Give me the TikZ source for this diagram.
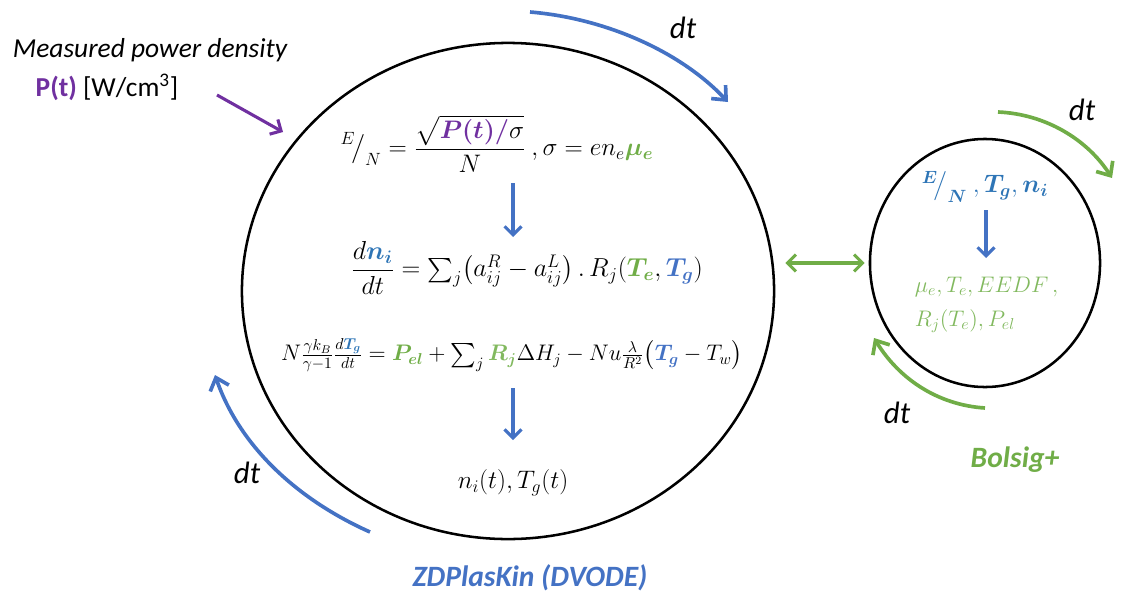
\RequirePackage{fix-cm}
\documentclass[tikz,border=0pt]{standalone}
\usepackage{amsmath}
\usepackage{bm}
\usepackage{fontspec}
\setmainfont{Carlito}
\usetikzlibrary{arrows.meta,shapes.geometric}
\definecolor{myblue}{RGB}{68,114,196}
\definecolor{eqblue}{RGB}{46,117,182}
\definecolor{mygreen}{RGB}{112,173,71}
\definecolor{ltgreen}{RGB}{130,185,95}
\definecolor{mypurple}{RGB}{112,48,160}
\tikzset{
  ring/.style={draw=black, line width=1.8pt, ellipse, inner sep=0pt},
  bluearc/.style={draw=myblue, line width=2.6pt, -{Straight Barb[length=8pt,width=14pt,line width=2.6pt]}},
  greenarc/.style={draw=mygreen, line width=2.6pt, -{Straight Barb[length=8pt,width=14pt,line width=2.6pt]}},
  downarrow/.style={draw=myblue, line width=2.2pt, -{Straight Barb[length=6pt,width=12pt,line width=2.2pt]}},
  dtlabel/.style={font=\itshape\fontsize{22}{26}\selectfont, text=black},
  eqtext/.style={font=\fontsize{18}{21}\selectfont},
  eqsmall/.style={font=\fontsize{16}{19}\selectfont},
}
\begin{document}
\begin{tikzpicture}[x=0.025cm,y=-0.025cm]
\useasboundingbox (0,0) rectangle (1123,599);

% circles
\node[ring, minimum width=13.3cm, minimum height=12.4cm] (big) at (508,291) {};
\node[ring, minimum width=5.75cm, minimum height=6.2cm] (small) at (985,263) {};

% left labels
\node[font=\itshape\fontsize{19.5}{23}\selectfont] (meas) at (150,50) {Measured power density};
\node[font=\fontsize{19.5}{23}\selectfont] (pt) at (107,87) {{\color{mypurple}\bfseries P(t)} [W/cm\textsuperscript{3}]};
\coordinate (pa) at (217,95);
\coordinate (pb) at (283,132);
\draw[draw=mypurple, line width=2.2pt, -{Straight Barb[length=6pt,width=12pt,line width=2.2pt]}] (pa) -- (pb);

% equations in big circle
\node[eqtext] (eqA) at (497,144) {$\displaystyle {}^{E}\!\big/_{N} = \frac{\sqrt{\color{mypurple}\bm{P(t)/}\color{black}\sigma}}{N}\ ,\sigma = e n_e \color{mygreen}\bm{\mu_e}$};
\node[eqtext, font=\fontsize{18.5}{21}\selectfont] (eqB) at (527,268) {$\displaystyle \frac{d\color{eqblue}\bm{n_i}}{dt} = \textstyle\sum_j \bigl(a_{ij}^{R} - a_{ij}^{L}\bigr)\,.\,R_j(\color{mygreen}\bm{T_e}\color{black},\color{myblue}\bm{T_g}\color{black})$};
\node[eqsmall] (eqC) at (512,355) {$\textstyle N\frac{\gamma k_B}{\gamma-1}\frac{d\color{eqblue}\bm{T_g}}{dt} = \color{mygreen}\bm{P_{el}}\color{black} + \sum_j \color{ltgreen}\bm{R_j}\color{black}\Delta H_j - Nu\frac{\lambda}{R^2}\bigl(\color{myblue}\bm{T_g}\color{black} - T_w\bigr)$};
\node[eqtext] (eqD) at (513,483) {$n_i(t), T_g(t)$};

\coordinate (a1s) at (513,183);
\coordinate (a1e) at (513,237);
\coordinate (a2s) at (513,388);
\coordinate (a2e) at (513,440);
\draw[downarrow] (a1s) -- (a1e);
\draw[downarrow] (a2s) -- (a2e);

% small circle text
\node[eqtext, text=eqblue] (eqE) at (985,187) {$\bm{{}^{E}\!\big/_{N}}\ ,\bm{T_g},\bm{n_i}$};
\coordinate (a3s) at (986,210);
\coordinate (a3e) at (986,258);
\draw[downarrow] (a3s) -- (a3e);
\node[eqsmall, text=ltgreen, anchor=west] (eqF) at (910,287) {$\mu_e, T_e, EEDF\,,$};
\node[eqsmall, text=ltgreen, anchor=west] (eqG) at (910,321) {$R_j(T_e), P_{el}$};

% double arrow between circles
\draw[draw=mygreen, line width=2.2pt, {Straight Barb[length=6pt,width=12pt,line width=2.2pt]}-{Straight Barb[length=6pt,width=12pt,line width=2.2pt]}, shorten <=0.25cm, shorten >=0.1cm] (big.east |- small.west) -- (small.west);

% blue time arcs
\coordinate (bt1) at (530,12);
\coordinate (bt2) at (728,102);
\draw[bluearc] (bt1) .. controls (603,18) and (679,50) .. (bt2);
\coordinate (bl1) at (370,532);
\coordinate (bl2) at (215,375);
\draw[bluearc] (bl1) .. controls (296,499) and (239,445) .. (bl2);

% green time arcs
\coordinate (gt1) at (998,112);
\coordinate (gt2) at (1112,178);
\draw[greenarc] (gt1) .. controls (1045,114) and (1087,139) .. (gt2);
\coordinate (gl1) at (985,408);
\coordinate (gl2) at (874,338);
\draw[greenarc] (gl1) .. controls (938,405) and (899,379) .. (gl2);

% dt labels
\node[dtlabel] (dt1) at (683,28) {dt};
\node[dtlabel] (dt2) at (247,473) {dt};
\node[dtlabel] (dt3) at (1082,110) {dt};
\node[dtlabel] (dt4) at (897,413) {dt};

% titles
\node[font=\bfseries\itshape\fontsize{21}{25}\selectfont, text=myblue] (zdp) at (530,578) {ZDPlasKin (DVODE)};
\node[font=\bfseries\itshape\fontsize{21}{25}\selectfont, text=mygreen] (bol) at (1015,460) {Bolsig+};
\end{tikzpicture}
\end{document}
